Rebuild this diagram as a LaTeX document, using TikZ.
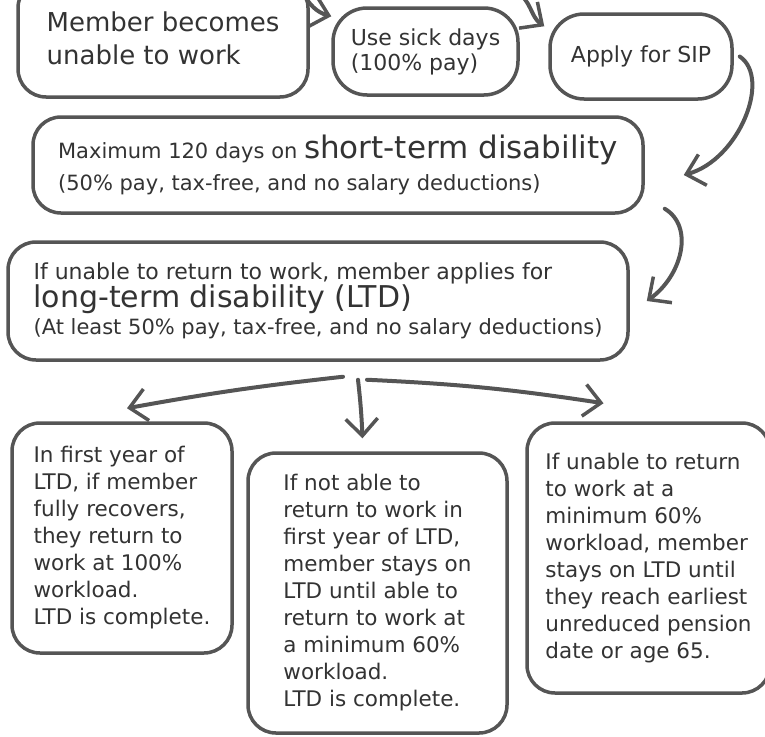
\documentclass[tikz,border=0pt]{standalone}
\usepackage{fontspec}
\setmainfont{DejaVu Sans}
\usetikzlibrary{arrows.meta}

\definecolor{pen}{HTML}{555555}
\definecolor{ink}{HTML}{333333}

\begin{document}
\begin{tikzpicture}[x=1pt, y=-1pt, line width=3.5pt,
		box/.style={draw=pen, fill=white, text=ink, rounded corners=28pt, align=left, inner sep=4pt},
		flow/.style={draw=pen, line width=4pt, line cap=round, -{Straight Barb[length=17pt, width=32pt, line width=3.5pt]}}]

		\useasboundingbox (0,0) rectangle (765,736);

		% top row
		\node[box, minimum width=290pt, minimum height=117pt, font=\fontsize{26}{33}\selectfont] (unable) at (163,38.5) {Member becomes\\unable to work};
		\node[box, minimum width=185pt, minimum height=87pt, rounded corners=34pt, font=\fontsize{22}{25}\selectfont] (sick) at (425.5,51.5) {Use sick days\\(100\% pay)};
		\node[box, minimum width=182pt, minimum height=85pt, rounded corners=34pt, font=\fontsize{22}{25}\selectfont] (sip) at (641,56.5) {Apply for SIP};

		% short and long term
		\node[box, minimum width=610pt, minimum height=96pt, font=\fontsize{21}{32}\selectfont] (std) at (338,165)
			{Maximum 120 days on {\fontsize{31}{32}\selectfont short-term disability}\\(50\% pay, tax-free, and no salary deductions)};
		\node[box, minimum width=620pt, minimum height=118pt, font=\fontsize{22}{27}\selectfont] (ltd) at (318,301)
			{If unable to return to work, member applies for\\{\fontsize{30}{27}\selectfont long-term disability (LTD)}\\{\fontsize{21}{27}\selectfont (At least 50\% pay, tax-free, and no salary deductions)}};

		% outcomes
		\node[box, minimum width=220pt, minimum height=230pt, font=\fontsize{21.5}{27}\selectfont] (recover) at (122,538)
			{In first year of\\LTD, if member\\fully recovers,\\they return to\\work at 100\%\\workload.\\LTD is complete.};
		\node[box, minimum width=259pt, minimum height=280pt, font=\fontsize{21.5}{27}\selectfont] (stay) at (377.5,593)
			{If not able to\\return to work in\\first year of LTD,\\member stays on\\LTD until able to\\return to work at\\a minimum 60\%\\workload.\\LTD is complete.};
		\node[box, minimum width=243pt, minimum height=270pt, font=\fontsize{21.5}{27}\selectfont] (pension) at (648.5,558)
			{If unable to return\\to work at a\\minimum 60\%\\workload, member\\stays on LTD until\\they reach earliest\\unreduced pension\\date or age 65.};

		% arrows
		\draw[flow] (302,-8) to[out=-60, in=165] ([shift={(0,10)}]sick.north west);
		\draw[flow] ([shift={(-3,-14)}]sick.north east) to[out=-30, in=145] ([shift={(-4,14)}]sip.north west);
		\draw[flow] ([shift={(6,0)}]sip.east) .. controls +(32,22) and +(55,-15) .. ([shift={(39,10)}]std.east);
		\draw[flow] ([shift={(20,-6)}]std.south east) .. controls +(30,18) and +(35,-25) .. ([shift={(17,0)}]ltd.east);

		\draw[flow] ([shift={(25,15)}]ltd.south) to[bend right=2] ([shift={(5,-13)}]recover.north);
		\draw[flow] ([shift={(40,18)}]ltd.south) to[bend left=2] ([shift={(-15,-13)}]stay.north);
		\draw[flow] ([shift={(49,18)}]ltd.south) to[bend left=3] ([shift={(-45,-18)}]pension.north);
\end{tikzpicture}
\end{document}
